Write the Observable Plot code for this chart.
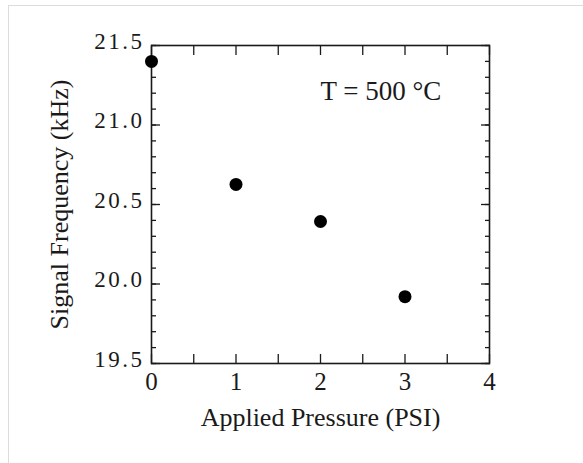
<!DOCTYPE html>
<html>
<head>
<meta charset="utf-8">
<script src="https://cdn.jsdelivr.net/npm/d3@7"></script>
<script src="https://cdn.jsdelivr.net/npm/@observablehq/plot@0.6"></script>
<style>
  html, body { margin: 0; padding: 0; background: #fff; }
  #wrap { position: relative; width: 583px; height: 463px; overflow: hidden; }
  #edge { position: absolute; left: 8px; top: 5px; right: -2px; bottom: -2px;
          border-top: 1px solid #dcdcdc; border-left: 1px solid #dcdcdc; }
  #chart { position: absolute; left: 0; top: 0; }
  g[aria-label="y-axis tick label"] text { letter-spacing: 2.5px; }
</style>
</head>
<body>
<div id="wrap"><div id="edge"></div><div id="chart"></div></div>
<script>
// Data
const pressure = [0, 1, 2, 3];                    // Applied Pressure (PSI)
const frequency = [21.40, 20.626, 20.393, 19.92]; // Signal Frequency (kHz)
const xTickLabels = [0, 1, 2, 3, 4];
const xTicks = [0, 0.5, 1, 1.5, 2, 2.5, 3, 3.5, 4];
const yTickLabels = [19.5, 20.0, 20.5, 21.0, 21.5];
const yMinorTicks = d3.range(0, 21).map(i => +(19.5 + i * 0.1).toFixed(1));
const xLabel = "Applied Pressure (PSI)";
const yLabel = "Signal Frequency (kHz)";
const note = "T = 500 °C";
const noteAt = {x: 2, y: 21.21};

const data = pressure.map((p, i) => ({p, f: frequency[i]}));
const FONT = "Liberation Serif, Times New Roman, serif";
const INK = "#1a1a1a";

const plot = Plot.plot({
  width: 583,
  height: 463,
  marginLeft: 151,
  marginRight: 94,
  marginTop: 45,
  marginBottom: 100,
  style: {fontFamily: FONT, fontSize: "22px", color: INK, background: "transparent"},
  x: {domain: [0, 4]},
  y: {domain: [19.5, 21.5]},
  marks: [
    // inward ticks
    Plot.axisX({anchor: "bottom", ticks: xTicks, tickSize: -9, tickFormat: () => "", label: null, stroke: INK, strokeWidth: 1.3}),
    Plot.axisX({anchor: "top", ticks: xTicks, tickSize: -9, tickFormat: () => "", label: null, stroke: INK, strokeWidth: 1.3}),
    Plot.axisY({anchor: "left", ticks: yMinorTicks, tickSize: -5, tickFormat: () => "", label: null, stroke: INK, strokeWidth: 1.3}),
    Plot.axisY({anchor: "right", ticks: yMinorTicks, tickSize: -5, tickFormat: () => "", label: null, stroke: INK, strokeWidth: 1.3}),
    Plot.axisY({anchor: "left", ticks: yTickLabels, tickSize: -9, tickFormat: () => "", label: null, stroke: INK, strokeWidth: 1.3}),
    Plot.axisY({anchor: "right", ticks: yTickLabels, tickSize: -9, tickFormat: () => "", label: null, stroke: INK, strokeWidth: 1.3}),
    // tick labels
    Plot.axisX({anchor: "bottom", ticks: xTickLabels, tickSize: 0, tickPadding: 9, tickFormat: d3.format("d"), label: null, fill: INK, fontSize: 25}),
    Plot.axisY({anchor: "left", ticks: yTickLabels, tickSize: 0, tickPadding: 7, dy: -4, tickFormat: d3.format(".1f"), label: null, fill: INK, fontSize: 23}),
    Plot.frame({stroke: INK, strokeWidth: 1.6}),
    Plot.dot(data, {x: "p", y: "f", r: 6.5, fill: "#000", stroke: null}),
    Plot.text([note], {x: noteAt.x, y: noteAt.y, text: d => d, textAnchor: "start", fill: INK, fontSize: 27}),
    Plot.text([xLabel], {frameAnchor: "bottom", dy: 62, text: d => d, textAnchor: "middle", fill: INK, fontSize: 26}),
    Plot.text([yLabel], {frameAnchor: "left", dx: -92, rotate: -90, text: d => d, textAnchor: "middle", fill: INK, fontSize: 26})
  ]
});
document.getElementById("chart").appendChild(plot);
</script>
</body>
</html>
